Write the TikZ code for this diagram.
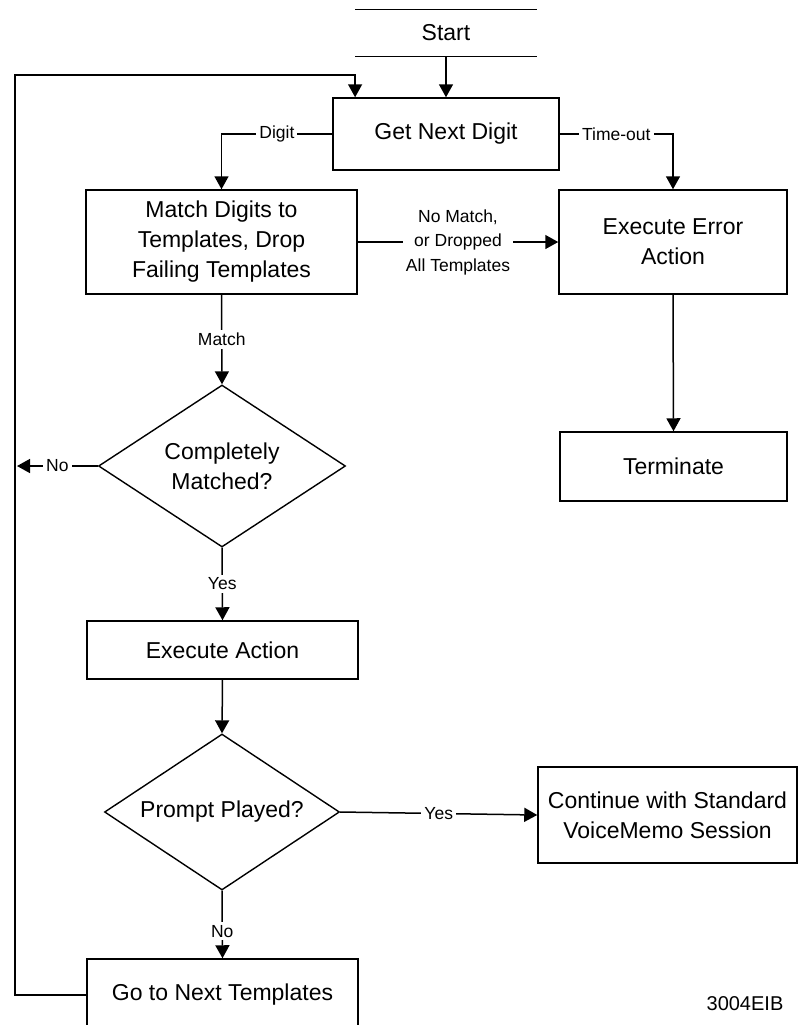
\documentclass[tikz,border=0pt]{standalone}
\usepackage{fontspec}
\setmainfont{Liberation Sans}
\usetikzlibrary{arrows.meta,positioning,calc,shapes.geometric}
\newcommand{\BoxFont}{\fontsize{11.5}{15}\selectfont}
\newcommand{\LblFont}{\fontsize{8.75}{12.25}\selectfont}

\begin{document}
\begin{tikzpicture}[x=0.5pt,y=-0.5pt,
  box/.style={draw,line width=0.75pt,inner sep=0pt,align=center,font=\BoxFont},
  decide/.style={diamond,draw,line width=0.7pt,inner sep=0pt,aspect=1.5,align=center,font=\BoxFont},
  lbl/.style={fill=white,inner sep=1.5pt,font=\LblFont,align=center},
  arr/.style={line width=0.75pt,-{Triangle[width=7pt,length=6.5pt]}},
  ln/.style={line width=0.8pt}]
\useasboundingbox (0,0) rectangle (798,1025);
\node[inner sep=0pt,minimum width=90.5pt,minimum height=23pt,font=\BoxFont] (start) at (446,33) {Start};
\draw[ln] (start.north west) -- (start.north east);
\draw[ln] (start.south west) -- (start.south east);
\node[box,minimum width=113pt,minimum height=36pt] (getnext) at (446,134) {Get Next Digit};
\node[box,minimum width=135.5pt,minimum height=52pt] (match) at (221.5,242) {Match Digits to\\Templates, Drop\\Failing Templates};
\node[box,minimum width=114pt,minimum height=52pt] (error) at (673,242) {Execute Error\\Action};
\node[box,minimum width=113.5pt,minimum height=34.5pt] (term) at (673.5,466.5) {Terminate};
\node[decide,minimum width=123.5pt,minimum height=81pt] (matched) at (222,466) {Completely\\Matched?};
\node[box,minimum width=135.5pt,minimum height=29pt] (exec) at (222.5,650) {Execute Action};
\node[decide,minimum width=117.5pt,minimum height=78pt] (played) at (222,812) {Prompt Played?};
\node[box,minimum width=129.5pt,minimum height=48pt] (cont) at (667.5,815) {Continue with Standard\\VoiceMemo Session};
\node[box,minimum width=135.5pt,minimum height=36pt] (gonext) at (222.5,995) {Go to Next Templates};
\node[font=\fontsize{10}{12}\selectfont] (figid) at (745,1004) {3004EIB};
\coordinate (noend) at (17,466);
\coordinate (loop) at (15,75);
\draw[arr] (start.south) -- (getnext.north);
\draw[arr] (getnext.west) -| node[lbl,pos=0.25] {Digit} (match.north);
\draw[arr] (getnext.east) -| node[lbl,pos=0.25] {Time-out} (error.north);
\draw[arr] (match.east) -- node[lbl] {No Match,\\or Dropped\\All Templates} (error.west);
\draw[arr] (error.south) -- (term.north);
\draw[arr] (match.south) -- node[lbl] {Match} (matched.north);
\draw[arr] (matched.west) -- node[lbl] {No} (noend);
\draw[arr] (matched.south) -- node[lbl] {Yes} (exec.north);
\draw[arr] (exec.south) -- (played.north);
\draw[arr] (played.east) -- node[lbl] {Yes} (cont.west);
\draw[arr] (played.south) -- node[lbl,pos=0.6] {No} (gonext.north);
\draw[arr] (gonext.west) -| (loop) -| (start.west |- getnext.north);
\end{tikzpicture}
\end{document}
